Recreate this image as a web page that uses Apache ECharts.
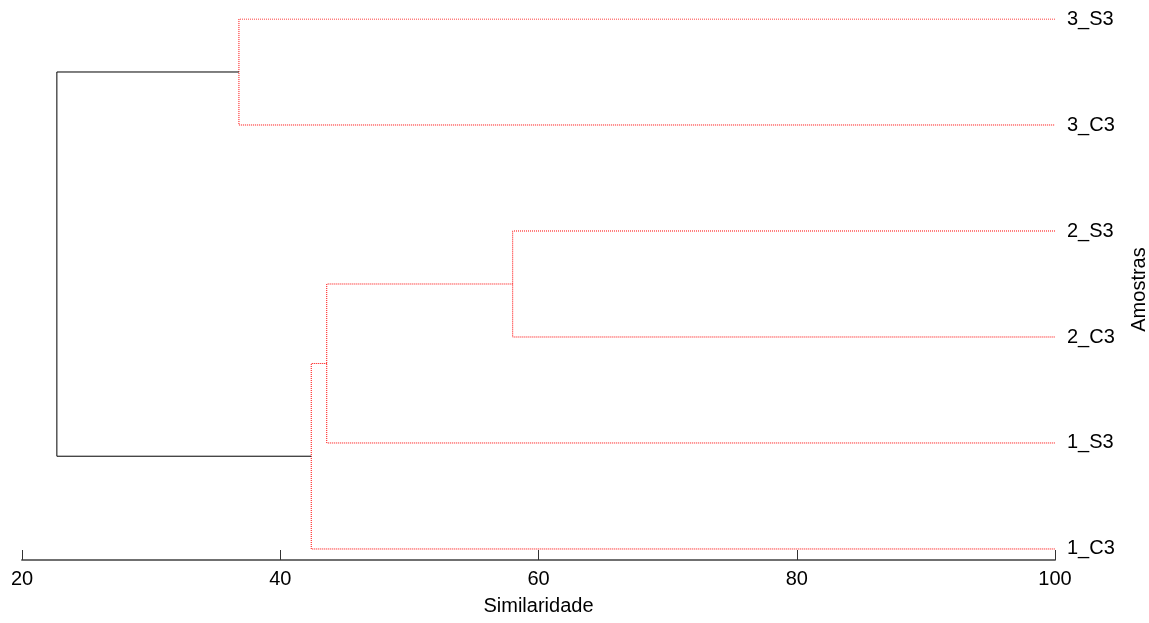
<!DOCTYPE html>
<html>
<head>
<meta charset="utf-8">
<title>Dendrograma</title>
<script src="https://cdn.jsdelivr.net/npm/echarts@6/dist/echarts.min.js"></script>
<style>
  html, body { margin: 0; padding: 0; background: #fff; }
  #chart { width: 1149px; height: 623px; }
</style>
</head>
<body>
<div id="chart"></div>
<script>
// Samples, listed from bottom to top of the tree
const leaves = ['1_C3', '1_S3', '2_C3', '2_S3', '3_C3', '3_S3'];
// Each merge joins two nodes: ids 0..5 are samples, 6.. are earlier merges
const mergePairs = [[3, 2], [6, 1], [7, 0], [5, 4], [8, 9]];
// Similarity level at which each merge happens
const mergeHeights = [58.0, 43.6, 42.4, 36.8, 22.7];
// Similarity axis ticks
const xTicks = [20, 40, 60, 80, 100];

const leafLevel = 100;
const nodeX = leaves.map(() => leafLevel);
const nodeY = leaves.map((_, i) => i);
const links = [];
mergePairs.forEach(([a, b], i) => {
  const h = mergeHeights[i];
  links.push([[nodeX[a], nodeY[a]], [h, nodeY[a]], [h, nodeY[b]], [nodeX[b], nodeY[b]]]);
  nodeX.push(h);
  nodeY.push((nodeY[a] + nodeY[b]) / 2);
});

const rootIndex = links.length - 1;
const FONT = '"Liberation Sans", Arial, sans-serif';

const series = links.map((pts, i) => {
  const col = i === rootIndex ? '#000000' : '#ff0000';
  return {
    type: 'line',
    data: pts,
    color: col,
    showSymbol: false,
    symbol: 'none',
    silent: true,
    animation: false,
    z: i === rootIndex ? 3 : 2,
    lineStyle: i === rootIndex
      ? { color: col, width: 1, type: 'solid', opacity: 1 }
      : { color: col, width: 1, type: [1, 1], opacity: 1 }
  };
});

// the similarity axis sits a little below the lowest sample
const yBottom = -0.104;

const chart = echarts.init(document.getElementById('chart'), null, { renderer: 'canvas' });
chart.setOption({
  backgroundColor: '#fff',
  animation: false,
  grid: { left: 22, right: 94, top: 19, bottom: 63, containLabel: false, outerBoundsMode: 'none' },
  xAxis: {
    type: 'value',
    min: xTicks[0],
    max: xTicks[xTicks.length - 1],
    interval: xTicks[1] - xTicks[0],
    name: 'Similaridade',
    nameLocation: 'middle',
    nameGap: 36,
    nameTextStyle: { color: '#000', fontFamily: FONT, fontSize: 20 },
    axisLine: { show: true, onZero: false, lineStyle: { color: '#707070', width: 2 } },
    axisTick: { show: true, inside: true, length: 10, lineStyle: { color: '#333', width: 1 } },
    axisLabel: { color: '#000', fontFamily: FONT, fontSize: 20, margin: 9 },
    splitLine: { show: false }
  },
  yAxis: {
    type: 'value',
    position: 'right',
    min: yBottom,
    max: leaves.length - 1,
    name: 'Amostras',
    nameLocation: 'middle',
    nameGap: 74,
    nameTextStyle: { color: '#000', fontFamily: FONT, fontSize: 20 },
    axisLine: { show: false, onZero: false },
    axisTick: { show: false },
    axisLabel: {
      color: '#000', fontFamily: FONT, fontSize: 20, margin: 12,
      customValues: leaves.map((_, i) => i),
      formatter: v => leaves[Math.round(v)] || ''
    },
    splitLine: { show: false }
  },
  series: series
});
</script>
</body>
</html>
